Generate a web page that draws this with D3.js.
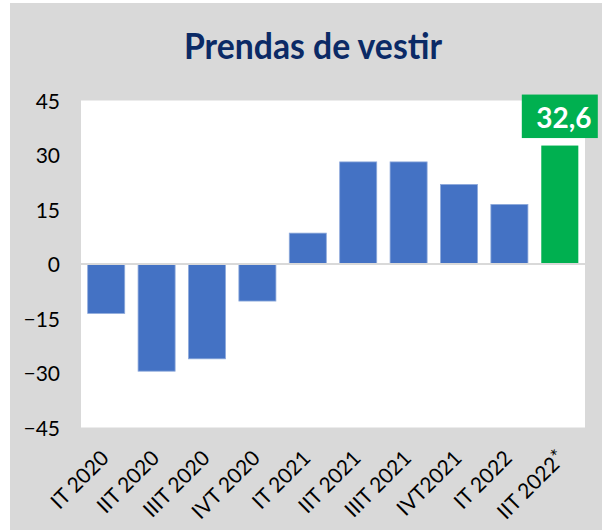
<!DOCTYPE html>
<html>
<head>
<meta charset="utf-8">
<script src="https://cdn.jsdelivr.net/npm/d3@7"></script>
<style>
  html, body { margin: 0; padding: 0; background: #ffffff; }
  svg { display: block; }
</style>
</head>
<body>
<svg id="chart" width="602" height="530"></svg>
<script>
const title = "Prendas de vestir";
const categories = ["IT 2020", "IIT 2020", "IIIT 2020", "IVT 2020", "IT 2021", "IIT 2021", "IIIT 2021", "IVT2021", "IT 2022", "IIT 2022*"];
const values = [-13.6, -29.5, -26.1, -10.2, 8.5, 28.1, 28.1, 21.9, 16.4, 32.6];
const yTicks = [45, 30, 15, 0, -15, -30, -45];
const highlightLabel = "32,6";

const svg = d3.select("#chart");
const W = 602, H = 530;
const plot = { left: 81, right: 585, top: 100.5, bottom: 427.5 };

// background panel
svg.append("rect").attr("x", 10).attr("y", 3).attr("width", W - 10).attr("height", H - 3).attr("fill", "#d9d9d9");
// plot area
svg.append("rect").attr("x", plot.left).attr("y", plot.top)
  .attr("width", plot.right - plot.left).attr("height", plot.bottom - plot.top).attr("fill", "#ffffff");

const x = d3.scaleBand().domain(categories).range([plot.left, plot.right]).paddingInner(0.265).paddingOuter(0.1325);
const y = d3.scaleLinear().domain([-45, 45]).range([plot.bottom, plot.top]);

// title
svg.append("text").attr("x", 313).attr("y", 59).attr("text-anchor", "middle")
  .attr("font-family", "Lato, 'Open Sans', sans-serif").attr("font-weight", 700).attr("font-size", 36)
  .attr("fill", "#0b2a66").attr("textLength", 258).attr("lengthAdjust", "spacingAndGlyphs")
  .text(title);

// y axis
const yAxis = d3.axisLeft(y).tickValues(yTicks).tickSize(0).tickPadding(0).tickFormat(d3.format("d"));
const yg = svg.append("g").attr("transform", `translate(60,0)`).call(yAxis);
yg.select(".domain").remove();
yg.selectAll("text").attr("font-family", "Lato, sans-serif").attr("font-size", 21).attr("fill", "#000").attr("dy", "0.36em");

// bars
svg.append("g").selectAll("rect").data(values).join("rect")
  .attr("x", (d, i) => x(categories[i]))
  .attr("width", x.bandwidth())
  .attr("y", d => y(Math.max(0, d)))
  .attr("height", d => Math.abs(y(d) - y(0)))
  .attr("fill", (d, i) => i === values.length - 1 ? "#00b050" : "#4472c4")
  .attr("stroke", (d, i) => i === values.length - 1 ? "none" : "#8eaadb")
  .attr("stroke-width", 0.8);

// zero line
svg.append("line").attr("x1", plot.left).attr("x2", plot.right).attr("y1", y(0)).attr("y2", y(0))
  .attr("stroke", "#d9d9d9").attr("stroke-width", 2);

// x axis labels
const xAxis = d3.axisBottom(x).tickSize(0).tickPadding(0);
const xg = svg.append("g").attr("transform", `translate(0,${plot.bottom})`).call(xAxis);
xg.select(".domain").remove();
xg.selectAll("text").each(function(d) {
  const t = d3.select(this);
  t.text(null);
  const star = d.endsWith("*");
  t.append("tspan").text(star ? d.slice(0, -1) : d);
  if (star) t.append("tspan").attr("font-size", 20).attr("dy", "-0.12em").text("*");
})
  .attr("font-family", "Lato, sans-serif").attr("font-size", 21).attr("fill", "#000")
  .attr("text-anchor", "end").attr("y", 0).attr("dy", 0)
  .attr("transform", d => `translate(${d.endsWith("*") ? 7 : 4},32) rotate(-45)`);

// highlight label box
const last = categories[categories.length - 1];
const cx = x(last) + x.bandwidth() / 2;
const boxW = 76, boxH = 43.5;
const boxBottom = y(values[values.length - 1]) - 7.5;
svg.append("rect").attr("x", cx - boxW / 2).attr("y", boxBottom - boxH).attr("width", boxW).attr("height", boxH).attr("fill", "#00b050");
svg.append("text").attr("x", cx + 4).attr("y", boxBottom - 10).attr("text-anchor", "middle")
  .attr("font-family", "Lato, sans-serif").attr("font-weight", 700).attr("font-size", 28).attr("fill", "#ffffff")
  .text(highlightLabel);
</script>
</body>
</html>
